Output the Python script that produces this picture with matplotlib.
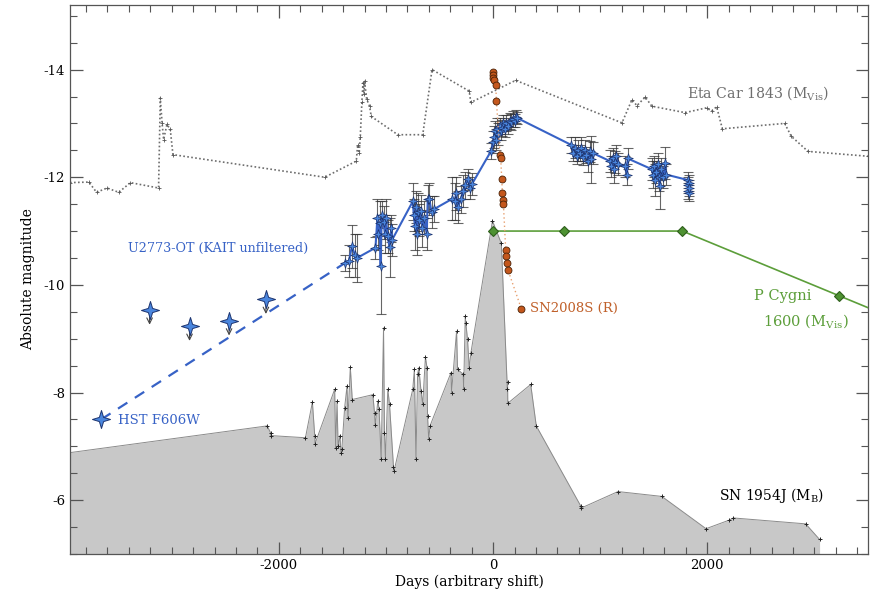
import numpy as np
import matplotlib
matplotlib.use('Agg')
import matplotlib.pyplot as plt
import matplotlib.path as mpath
from matplotlib.ticker import MultipleLocator

plt.rcParams['font.family'] = ['DejaVu Serif']
plt.rcParams['mathtext.fontset'] = 'dejavuserif'
plt.rcParams['axes.unicode_minus'] = False

# ---- Eta Car 1843 (M_Vis) ----
eta_day = [-3950, -3774, -3702, -3604, -3495, -3386, -3123, -3107, -3090, -3076,
           -3045, -3014, -2989, -1572, -1277, -1265, -1250, -1240, -1225, -1215,
           -1205, -1200, -1180, -1153, -1138, -890, -657, -570, -223, -208,
           211, 1203, 1296, 1343, 1420, 1482, 1792, 1994, 2040, 2087,
           2140, 2722, 2784, 2940, 3500]
eta_mag = [-11.90, -11.91, -11.72, -11.80, -11.72, -11.90, -11.80, -13.47, -13.00, -12.70,
           -12.98, -12.89, -12.42, -12.00, -12.30, -12.60, -12.45, -12.75, -13.40, -13.75,
           -13.55, -13.78, -13.45, -13.32, -13.13, -12.79, -12.79, -14.00, -13.60, -13.39,
           -13.80, -13.01, -13.44, -13.33, -13.49, -13.32, -13.20, -13.29, -13.23, -13.31,
           -12.90, -13.00, -12.76, -12.48, -12.39]

# ---- SN 1954J (M_B) ----
sn54_day = [-4000, -2109, -2077, -2075, -1752, -1687, -1665, -1662, -1479, -1470,
            -1457, -1447, -1430, -1420, -1412, -1386, -1364, -1355, -1333, -1315,
            -1123, -1107, -1100, -1076, -1065, -1045, -1023, -1014, -1005, -983,
            -967, -930, -925, -750, -735, -720, -705, -694, -673, -657,
            -632, -617, -612, -601, -589, -393, -388, -341, -332, -279,
            -275, -260, -255, -239, -223, -207, -6, 77, 133, 135,
            137, 351, 403, 816, 818, 1166, 1575, 1988, 2205, 2242,
            2918, 3048]
sn54_mag = [-6.87, -7.38, -7.25, -7.20, -7.16, -7.82, -7.19, -7.05, -8.06, -6.97,
            -7.84, -7.00, -7.20, -6.88, -6.95, -7.72, -8.12, -7.53, -8.47, -7.87,
            -7.96, -7.62, -7.39, -7.84, -7.70, -6.77, -9.20, -7.25, -6.77, -8.06,
            -7.78, -6.62, -6.54, -8.06, -8.43, -6.77, -8.34, -8.46, -8.03, -7.78,
            -8.66, -8.46, -7.56, -7.13, -7.38, -8.37, -8.00, -9.14, -8.43, -8.34,
            -8.06, -9.42, -9.30, -8.99, -8.46, -8.74, -11.19, -10.77, -8.06, -8.20,
            -7.80, -8.15, -7.38, -5.90, -5.85, -6.16, -6.07, -5.47, -5.63, -5.67,
            -5.56, -5.27]

# ---- U2773-OT (KAIT unfiltered) ----
kait_day = [-1380, -1345, -1318, -1290, -1270,
            -1098, -1080, -1070, -1060, -1050, -1040, -1023, -1010, -1000, -985, -965, -950, -942,
            -750, -740, -730, -720, -710, -700, -690, -673, -660, -645, -620, -610, -595, -575, -549,
            -380, -360, -345, -330, -300, -280, -260, -232, -215, -198,
            -21, 0, 10, 20, 30, 40, 50, 60, 70, 80, 95, 110, 125, 140, 155, 170, 185, 200, 215, 226,
            730, 750, 765, 780, 795, 810, 825, 840, 855, 870, 885, 900, 915, 930,
            1090, 1105, 1115, 1125, 1140, 1150, 1165, 1230, 1250, 1255,
            1480, 1495, 1505, 1515, 1525, 1535, 1545, 1555, 1570, 1590, 1606, 1615,
            1815, 1820, 1822, 1825, 1828, 1830]
kait_mag = [-10.41, -10.45, -10.72, -10.55, -10.50,
            -10.69, -11.25, -10.95, -11.15, -10.35, -11.30, -11.16, -10.95, -11.25, -10.90, -10.70, -11.05, -10.84,
            -11.55, -11.30, -11.10, -11.45, -10.95, -11.35, -11.20, -11.37, -11.05, -11.25, -10.95, -11.60, -11.59, -11.35, -11.41,
            -11.60, -11.55, -11.70, -11.45, -11.59, -11.75, -11.85, -11.96, -11.80, -11.87,
            -12.48, -12.65, -12.75, -12.85, -12.70, -12.90, -12.80, -12.95, -12.85, -12.92, -13.00, -12.90, -13.00, -12.95, -13.05, -13.02, -13.08, -13.05, -13.12, -13.10,
            -12.60, -12.45, -12.55, -12.40, -12.50, -12.45, -12.55, -12.38, -12.50, -12.42, -12.30, -12.48, -12.33, -12.45,
            -12.30, -12.20, -12.35, -12.15, -12.28, -12.40, -12.25, -12.20, -12.05, -12.35,
            -12.15, -12.05, -12.20, -11.95, -12.10, -12.25, -12.00, -11.84, -12.15, -12.00, -12.27, -12.05,
            -11.95, -11.75, -11.85, -11.70, -11.90, -11.80]
kait_err = [0.15, 0.30, 0.40, 0.40, 0.45,
            0.20, 0.35, 0.30, 0.40, 0.90, 0.25, 0.30, 0.35, 0.35, 0.30, 0.55, 0.25, 0.30,
            0.35, 0.30, 0.45, 0.30, 0.40, 0.35, 0.30, 0.30, 0.35, 0.30, 0.30, 0.25, 0.30, 0.30, 0.25,
            0.40, 0.35, 0.30, 0.30, 0.25, 0.30, 0.25, 0.20, 0.20, 0.20,
            0.15, 0.20, 0.20, 0.20, 0.20, 0.20, 0.20, 0.15, 0.15, 0.15, 0.15, 0.15, 0.15, 0.15, 0.15, 0.15, 0.15, 0.12, 0.12, 0.12,
            0.15, 0.15, 0.20, 0.15, 0.20, 0.15, 0.20, 0.15, 0.20, 0.15, 0.20, 0.20, 0.43, 0.20,
            0.20, 0.20, 0.20, 0.25, 0.20, 0.20, 0.20, 0.20, 0.20, 0.20,
            0.20, 0.25, 0.20, 0.30, 0.20, 0.20, 0.25, 0.43, 0.20, 0.20, 0.30, 0.20,
            0.15, 0.15, 0.15, 0.15, 0.15, 0.15]

# HST F606W detection and earlier upper limits
hst_day, hst_mag = -3659, -7.50
lim_day = [-3207, -2834, -2465, -2121]
lim_mag = [-9.53, -9.23, -9.33, -9.73]

# ---- SN2008S (R) ----
s08_day = [0, 2, 3, 5, 25, 31, 65, 71, 81, 87, 92, 96, 118, 124, 133, 140, 263]
s08_mag = [-13.95, -13.90, -13.85, -13.80, -13.72, -13.41, -12.42, -12.35, -11.96,
           -11.70, -11.57, -11.51, -10.64, -10.53, -10.41, -10.27, -9.56]

# ---- P Cygni 1600 (M_Vis) ----
pcyg_day = [0, 660, 1767, 3228, 4200]
pcyg_mag = [-11.0, -11.0, -11.0, -9.8, -9.0]

# colours
c_blue = '#3762c6'
c_blue_fill = '#4a86de'
c_green = '#5c9e3a'
c_brown = '#c0602a'
c_gray = '#6e6e6e'

# concave four-pointed star marker
ang = np.pi / 2 + np.arange(8) * np.pi / 4
rad = np.where(np.arange(8) % 2 == 0, 1.0, 0.33)
verts = np.column_stack([rad * np.cos(ang), rad * np.sin(ang)])
verts = np.vstack([verts, verts[:1]])
star4 = mpath.Path(verts, [mpath.Path.MOVETO] + [mpath.Path.LINETO] * 7 + [mpath.Path.CLOSEPOLY])

fig = plt.figure(figsize=(8.72, 5.96), dpi=100)
ax = fig.add_axes([70 / 872, 42 / 596, 798 / 872, 549 / 596])

# SN 1954J shaded
ax.fill_between(sn54_day, sn54_mag, -5, color='#c8c8c8', lw=0, zorder=1)
ax.plot(sn54_day, sn54_mag, color='#8a8a8a', lw=0.7, zorder=2)
ax.plot(sn54_day, sn54_mag, ls='none', marker='+', ms=3.5, mew=0.7, color='#222', zorder=2)

# Eta Car
ax.plot(eta_day, eta_mag, color=c_gray, lw=1.2, ls=(0, (1, 1.4)), zorder=2)
ax.plot(eta_day, eta_mag, ls='none', marker='+', ms=2.5, mew=0.6, color='#555', zorder=2)

# P Cygni
ax.plot(pcyg_day, pcyg_mag, color=c_green, lw=1.2, marker='D', ms=5,
        mfc='#4e9232', mec='#2e5e1c', mew=0.8, zorder=4)

# U2773-OT
ax.errorbar(kait_day, kait_mag, yerr=kait_err, fmt='none', ecolor='#333333',
            elinewidth=0.8, capsize=3.5, capthick=0.8, alpha=0.75, zorder=3)
ax.plot([hst_day, kait_day[0]], [hst_mag, kait_mag[0]], color=c_blue, lw=1.6,
        dashes=(5, 4), zorder=3)
ax.plot(kait_day, kait_mag, color=c_blue, lw=1.5, zorder=4)
ax.plot(kait_day, kait_mag, ls='none', marker=star4, ms=7, mfc=c_blue_fill,
        mec='#1e3570', mew=0.5, zorder=5)
ax.plot([hst_day], [hst_mag], ls='none', marker=star4, ms=13, mfc=c_blue_fill,
        mec='#1e3570', mew=0.7, zorder=5)
ax.plot(lim_day, lim_mag, ls='none', marker=star4, ms=13, mfc=c_blue_fill,
        mec='#1e3570', mew=0.7, zorder=5)
for d, m in zip(lim_day, lim_mag):
    ax.annotate('', xy=(d, m + 0.27), xytext=(d, m + 0.08),
                arrowprops=dict(arrowstyle='->', color='#444', lw=0.8,
                                shrinkA=0, shrinkB=0), zorder=4)

# SN2008S
ax.plot(s08_day, s08_mag, color='#e8a070', lw=1.0, ls=(0, (1, 2)), zorder=5)
ax.plot(s08_day, s08_mag, ls='none', marker='o', ms=5, mfc='#c4571c',
        mec='#4a2208', mew=0.6, zorder=6)

# labels
ax.text(1808, -13.57, r'Eta Car 1843 (M$_{\mathrm{Vis}}$)', color='#6e6e6e',
        fontsize=10.2, va='center', ha='left')
ax.text(-3412, -10.68, 'U2773-OT (KAIT unfiltered)', color=c_blue,
        fontsize=9.2, va='center', ha='left')
ax.text(-3505, -7.48, 'HST F606W', color=c_blue, fontsize=9.5, va='center', ha='left')
ax.text(343, -9.56, 'SN2008S (R)', color=c_brown, fontsize=9.5, va='center', ha='left')
ax.text(2434, -9.80, 'P Cygni', color=c_green, fontsize=10.5, va='center', ha='left')
ax.text(2518, -9.33, r'1600 (M$_{\mathrm{Vis}}$)', color=c_green, fontsize=10.5,
        va='center', ha='left')
ax.text(2110, -6.09, r'SN 1954J (M$_{\mathrm{B}}$)', color='black', fontsize=10,
        va='center', ha='left')

ax.set_xlim(-3950, 3500)
ax.set_ylim(-5, -15.2)
ax.xaxis.set_major_locator(MultipleLocator(2000))
ax.xaxis.set_minor_locator(MultipleLocator(200))
ax.yaxis.set_major_locator(MultipleLocator(2))
ax.yaxis.set_minor_locator(MultipleLocator(0.5))
ax.tick_params(which='both', direction='in', top=True, right=True, colors='#555',
               labelcolor='black', labelsize=9.5)
ax.tick_params(which='major', length=9, width=0.9)
ax.tick_params(which='minor', length=5, width=0.8)
for s in ax.spines.values():
    s.set_color('#555')
    s.set_linewidth(0.9)

ax.set_xlabel('Days (arbitrary shift)', fontsize=10, labelpad=2)
ax.set_ylabel('Absolute magnitude', fontsize=10, labelpad=6)

fig.savefig('out.png', dpi=100)
